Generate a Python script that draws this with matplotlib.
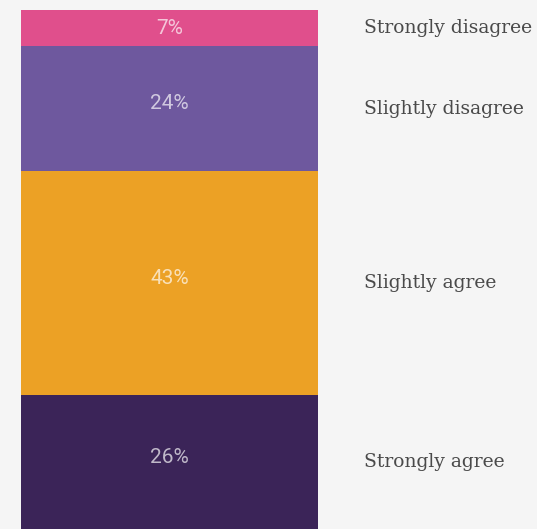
import matplotlib.pyplot as plt
from matplotlib.transforms import blended_transform_factory

# Responses, bottom to top of the stacked bar
categories = ["Strongly agree", "Slightly agree", "Slightly disagree", "Strongly disagree"]
values = [26, 43, 24, 7]
colors = ["#3b2458", "#eca125", "#6e589e", "#e04f8c"]

W, H = 537, 529
fig = plt.figure(figsize=(W / 100, H / 100), dpi=100, facecolor="#f5f5f5")
ax = fig.add_axes([21 / W, -1 / H, 297 / W, 520 / H])
ax.set_facecolor("#f5f5f5")

tr = blended_transform_factory(ax.transAxes, ax.transData)
bottom = 0
for cat, val, col in zip(categories, values, colors):
    ax.bar(0, val, bottom=bottom, width=1.0, color=col, linewidth=0)
    mid = bottom + val / 2
    lift = 3.5 if val > 10 else -0.5
    ax.annotate(f"{val}%", (0, mid), xytext=(0, lift), textcoords="offset points",
                ha="center", va="center", color="white", alpha=0.68,
                fontsize=15, family="Roboto", fontweight="normal")
    ax.text((364 - 21) / 297, mid, cat, transform=tr, ha="left", va="center",
            color="#4a4a4a", fontsize=13.5, family="DejaVu Serif", clip_on=False)
    bottom += val

ax.set_xlim(-0.5, 0.5)
ax.set_ylim(0, 100)
ax.axis("off")

fig.savefig("out.png", dpi=100, facecolor=fig.get_facecolor())
